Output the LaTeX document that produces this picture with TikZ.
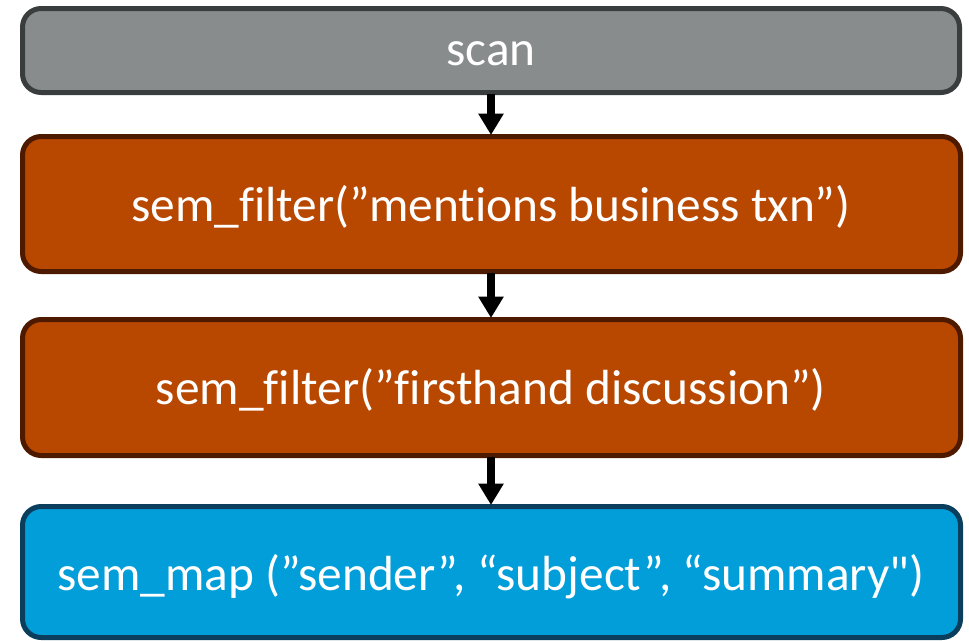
\documentclass[tikz,border=0pt]{standalone}
\usepackage{fontspec}
\setmainfont[Ligatures={TeX,NoCommon}]{Carlito}
\usetikzlibrary{arrows.meta}
\definecolor{scanfill}{HTML}{898C8C}
\definecolor{scanline}{HTML}{3A3D3D}
\definecolor{filtfill}{HTML}{B84700}
\definecolor{filtline}{HTML}{4D1A00}
\definecolor{mapfill}{HTML}{019ED9}
\definecolor{mapline}{HTML}{0B3D5C}
\tikzset{
  opbox/.style={rounded corners=14pt, line width=3.75pt},
  oplabel/.style={text=white, font=\fontsize{37}{42}\selectfont, inner sep=0pt, anchor=base},
  flow/.style={line width=6pt, -{Triangle[width=18pt,length=16pt]}}
}
\begin{document}
\begin{tikzpicture}[x=0.75pt,y=-0.75pt]
  \useasboundingbox (0,0) rectangle (969,640);
  % operator boxes
  \draw[opbox, fill=scanfill, draw=scanline] (22.5,8.5) rectangle (959.5,92.5);
  \draw[opbox, fill=filtfill, draw=filtline] (22.5,136.5) rectangle (960.5,271.5);
  \draw[opbox, fill=filtfill, draw=filtline] (22.5,319.5) rectangle (960.5,455.5);
  \draw[opbox, fill=mapfill, draw=mapline] (22.5,506.5) rectangle (960.5,637.5);
  % labels
  \node[oplabel] (scan) at (491,65) {scan};
  \node[oplabel] (f1) at (491,221) {sem\_filter(”mentions business txn”)};
  \node[oplabel] (f2) at (491,404) {sem\_filter(”firsthand discussion”)};
  \node[oplabel] (m1) at (491,590) {sem\_map (”sender”, “subject”, “summary\textquotedbl)};
  % connectors between boxes
  \coordinate (a1) at (491,94);  \coordinate (b1) at (491,135);
  \coordinate (a2) at (491,273); \coordinate (b2) at (491,318);
  \coordinate (a3) at (491,457); \coordinate (b3) at (491,505);
  \draw[flow] (a1) -- (b1);
  \draw[flow] (a2) -- (b2);
  \draw[flow] (a3) -- (b3);
\end{tikzpicture}
\end{document}
